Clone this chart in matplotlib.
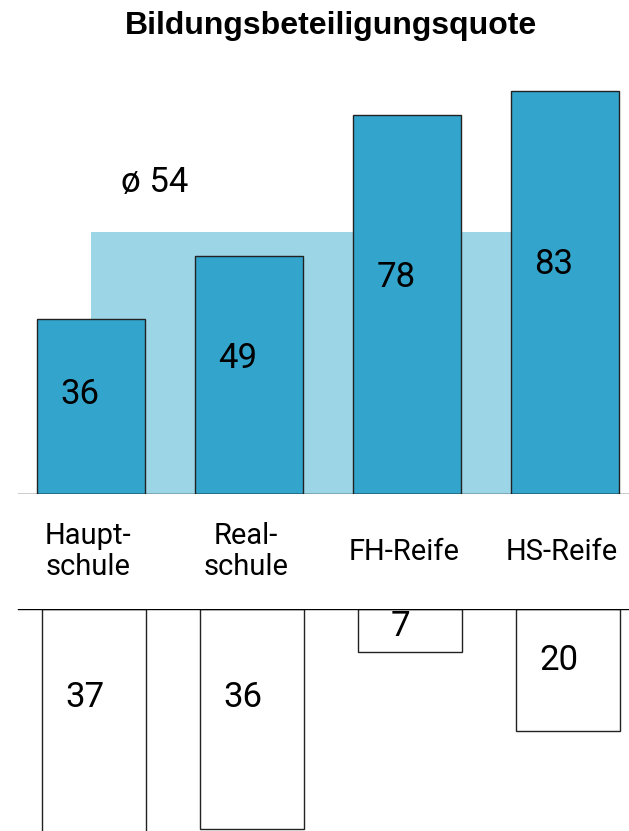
import numpy as np
import matplotlib
matplotlib.use("Agg")
import matplotlib.pyplot as plt

# data
categories = ["Haupt-\nschule", "Real-\nschule", "FH-Reife", "HS-Reife"]
quote = [36, 49, 78, 83]          # upper bars
lower_vals = [37, 36, 7, 20]      # lower (hanging) bars
average = 54

BAR_BLUE = "#33a5cd"
LIGHT_BLUE = "#9bd5e6"
FONT = "Roboto"

fig = plt.figure(figsize=(6.29, 8.31), dpi=100)
H = 831.0
x = np.arange(len(categories))
width = 0.68
xlim = (-0.576, 3.405)

# upper chart: baseline at 494 px, top at 60 px
ax1 = fig.add_axes([0, (H - 494) / H, 1, (494 - 60) / H])
ax1.set_xlim(*xlim)
ax1.set_ylim(0, (494 - 60) / 4.86)
ax1.axis("off")

# average band behind the bars
ax1.fill_between([x[0], x[-1] - width / 2], 0, average, color=LIGHT_BLUE,
                 linewidth=0, zorder=1)
ax1.bar(x, quote, width=width, color=BAR_BLUE, edgecolor="#222222",
        linewidth=1.0, zorder=2)
ax1.axhline(0, xmin=18 / 629, xmax=1, color="black", linewidth=1.0, zorder=3)

for xi, v in zip(x, quote):
    ax1.text(xi - 0.07, v * 0.57, str(v), ha="center", va="center",
             fontsize=25, family=FONT, color="black", zorder=4)

ax1.text(x[0] + 0.4, average + 10, "ø 54", ha="center", va="center",
         fontsize=25, family=FONT, color="black")

for xi, lab in zip(x, categories):
    ax1.text(xi - 0.02, -11.9, lab, ha="center", va="center", fontsize=21,
             family=FONT, linespacing=1.15, clip_on=False)

# lower chart: baseline at 609 px, running to the bottom edge
ax2 = fig.add_axes([0, 0, 1, (H - 609) / H])
ax2.set_xlim(*xlim)
ax2.set_ylim((H - 609) / 6.12, 0)
ax2.axis("off")
ax2.bar(x + 0.02, lower_vals, width=0.655, color="white", edgecolor="#222222",
        linewidth=1.0, zorder=2)
ax2.axhline(0, xmin=18 / 629, xmax=1, color="black", linewidth=1.0, zorder=3)
for xi, v in zip(x, lower_vals):
    ax2.text(xi - 0.04, min(v * 0.42, 14.5), str(v), ha="center", va="center",
             fontsize=25, family=FONT, color="black", zorder=4)

fig.text(0.526, 1 - 26 / H, "Bildungsbeteiligungsquote", ha="center",
         va="center", fontsize=23, fontweight="bold", family="Liberation Sans")

fig.savefig("out.png", dpi=100)
